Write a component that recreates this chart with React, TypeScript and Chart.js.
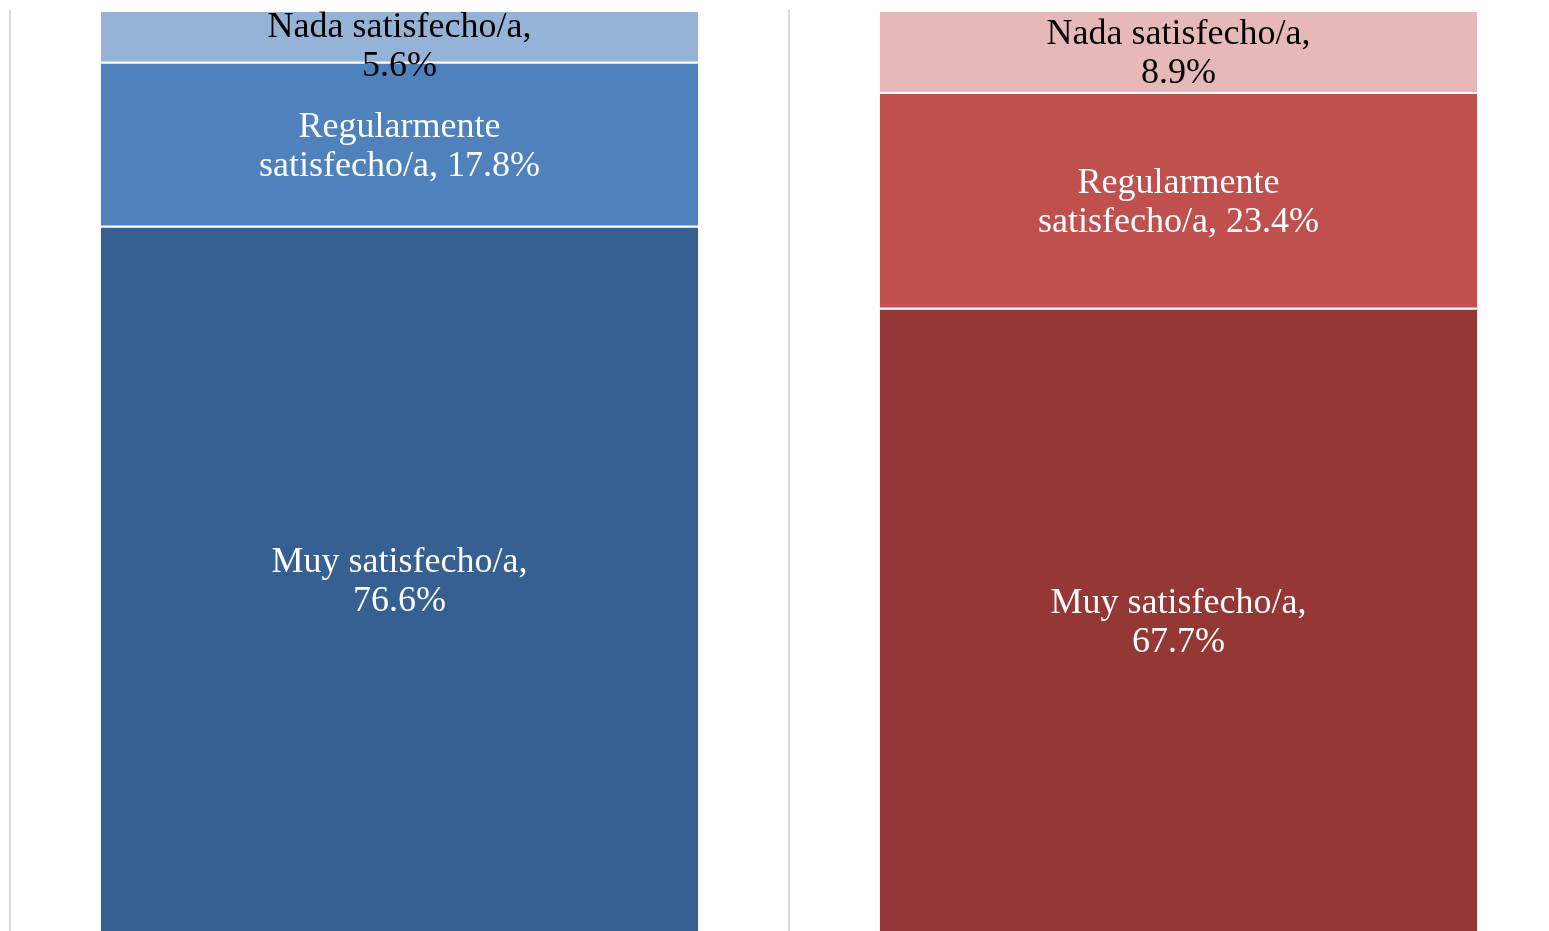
import React, { useEffect, useRef } from "react";
import { Chart, registerables } from "chart.js";

Chart.register(...registerables);

const categories = ["Grupo A", "Grupo B"];
const seriesNames = ["Muy satisfecho/a", "Regularmente satisfecho/a", "Nada satisfecho/a"];
const muyValues = [76.6, 67.7];
const regularValues = [17.8, 23.4];
const nadaValues = [5.6, 8.9];

const muyColors = ["#366092", "#953735"];
const regularColors = ["#4f81bd", "#c0504d"];
const nadaColors = ["#95b3d7", "#e6b9b8"];
const textColors = ["#ffffff", "#ffffff", "#000000"];

const FONT = "36px 'Liberation Serif', 'DejaVu Serif', serif";
const LINE_H = 39;
const MAX_W = 305;

function wrap(ctx: CanvasRenderingContext2D, text: string, maxW: number): string[] {
  const words = text.split(" ");
  const lines: string[] = [];
  let cur = "";
  for (const w of words) {
    const test = cur ? cur + " " + w : w;
    if (cur && ctx.measureText(test).width > maxW) {
      lines.push(cur);
      cur = w;
    } else {
      cur = test;
    }
  }
  if (cur) lines.push(cur);
  return lines;
}

const labelPlugin = {
  id: "segLabels",
  afterDatasetsDraw(chart: any) {
    const ctx: CanvasRenderingContext2D = chart.ctx;
    const top = chart.chartArea.top;
    ctx.save();
    ctx.font = FONT;
    ctx.textAlign = "center";
    ctx.textBaseline = "middle";
    chart.data.datasets.forEach((ds: any, di: number) => {
      const meta = chart.getDatasetMeta(di);
      meta.data.forEach((el: any, i: number) => {
        const v = ds.data[i];
        const text = `${seriesNames[di]}, ${v.toFixed(1)}%`;
        const lines = wrap(ctx, text, MAX_W);
        const cy = (el.y + el.base) / 2 + 3;
        const h = lines.length * LINE_H;
        let blockTop = cy - h / 2;
        if (blockTop < top - 2) blockTop = top - 2;
        ctx.fillStyle = textColors[di];
        lines.forEach((ln, li) => {
          ctx.fillText(ln, el.x, blockTop + LINE_H / 2 + li * LINE_H);
        });
      });
    });
    ctx.restore();
  },
};

export default function App() {
  const ref = useRef<HTMLCanvasElement | null>(null);
  useEffect(() => {
    if (!ref.current) return;
    const border = { top: 2, bottom: 0, left: 0, right: 0 };
    const chart = new Chart(ref.current, {
      type: "bar",
      data: {
        labels: categories,
        datasets: [
          { label: seriesNames[0], data: muyValues, backgroundColor: muyColors, borderColor: "#ffffff", borderWidth: border, borderSkipped: false },
          { label: seriesNames[1], data: regularValues, backgroundColor: regularColors, borderColor: "#ffffff", borderWidth: border, borderSkipped: false },
          { label: seriesNames[2], data: nadaValues, backgroundColor: nadaColors, borderColor: "#ffffff", borderWidth: border, borderSkipped: false },
        ],
      },
      options: {
        animation: false,
        responsive: false,
        layout: { padding: { left: 10, top: 10, right: 32, bottom: 68 } },
        plugins: { legend: { display: false }, tooltip: { enabled: false } },
        datasets: { bar: { categoryPercentage: 1, barPercentage: 0.767 } },
        scales: {
          x: {
            stacked: true,
            ticks: { display: false },
            grid: { display: true, color: "#d9d9d9", lineWidth: 2, drawTicks: false, offset: true },
            border: { display: false },
          },
          y: {
            stacked: true,
            display: false,
            min: 0,
            max: 100,
          },
        },
      },
      plugins: [labelPlugin],
    } as any);
    return () => chart.destroy();
  }, []);
  return (
    <div style={{ position: "fixed", left: 0, top: 0, width: 1549, height: 931, overflow: "hidden", background: "#fff" }}>
      <canvas ref={ref} width={1600} height={1000} style={{ display: "block" }} />
    </div>
  );
}
